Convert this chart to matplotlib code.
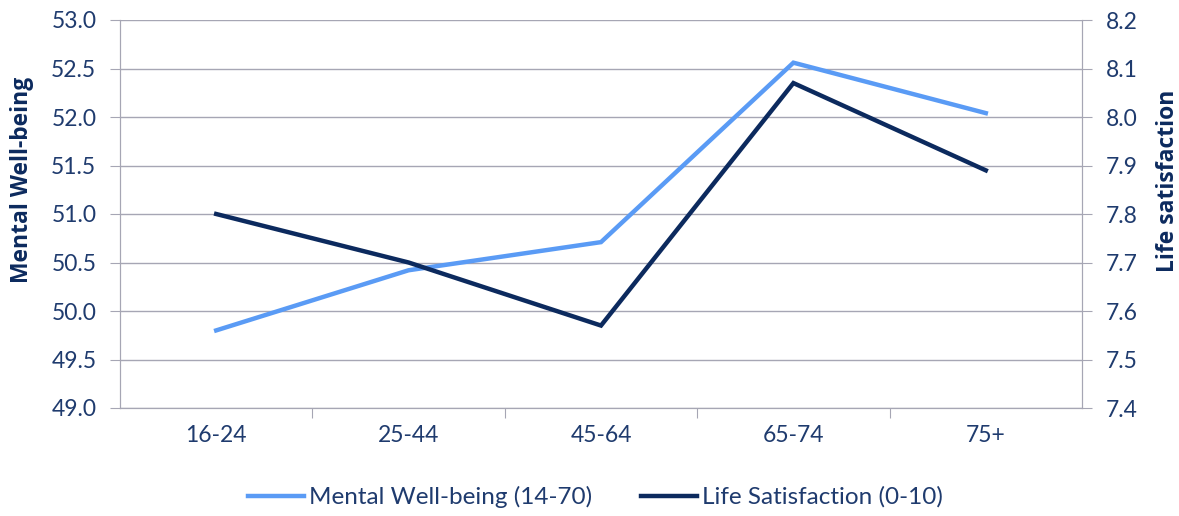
import matplotlib.pyplot as plt
from matplotlib.lines import Line2D

plt.rcParams['font.family'] = ['Lato', 'DejaVu Sans']

ages = ['16-24', '25-44', '45-64', '65-74', '75+']
wellbeing = [49.80, 50.42, 50.71, 52.56, 52.04]
life_sat = [7.80, 7.70, 7.57, 8.07, 7.89]

text_col = '#1F3B6E'
label_col = '#0C2A5E'
grid_col = '#A6A6B4'
light = '#5A9BF5'
dark = '#0C2A5E'

fig = plt.figure(figsize=(11.79, 5.16), dpi=100)
ax = fig.add_axes([120 / 1179, 1 - 408 / 516, 962 / 1179, 388 / 516])
ax2 = ax.twinx()

x = range(len(ages))
ax.plot(x, wellbeing, color=light, lw=3.2, solid_joinstyle='miter', zorder=3)
ax2.plot(x, life_sat, color=dark, lw=3.2, solid_joinstyle='miter', zorder=3)

ax.set_xlim(-0.5, len(ages) - 0.5)
ax.set_ylim(49, 53)
ax.set_yticks([49 + 0.5 * i for i in range(9)])
ax.set_yticklabels([f'{49 + 0.5 * i:.1f}' for i in range(9)])
ax2.set_ylim(7.4, 8.2)
ax2.set_yticks([7.4 + 0.1 * i for i in range(9)])
ax2.set_yticklabels([f'{7.4 + 0.1 * i:.1f}' for i in range(9)])

ax.set_xticks([i + 0.5 for i in range(len(ages) - 1)])
ax.set_xticklabels([])
ax.set_xticks(list(x), minor=True)
ax.set_xticklabels(ages, minor=True)
ax.tick_params(axis='x', which='minor', length=0, pad=12, labelsize=16.5, labelcolor=text_col)
ax.tick_params(axis='x', which='major', length=7, color=grid_col, direction='out')

ax.grid(axis='y', color=grid_col, lw=1)
ax.set_axisbelow(True)
for a in (ax, ax2):
    for s in a.spines.values():
        s.set_color(grid_col)
    a.spines['top'].set_visible(False)
ax.tick_params(axis='y', length=7, color=grid_col, labelsize=16.5, labelcolor=text_col, pad=10)
ax2.tick_params(axis='y', length=7, color=grid_col, labelsize=16.5, labelcolor=text_col, pad=10)

ax.set_ylabel('Mental Well-being', fontsize=16.5, fontweight='bold', color=label_col,
              family=['Open Sans', 'DejaVu Sans'])
ax2.set_ylabel('Life satisfaction', fontsize=16.5, fontweight='bold', color=label_col,
               family=['Open Sans', 'DejaVu Sans'])
ax.yaxis.set_label_coords(-0.089, 0.588)
ax2.yaxis.set_label_coords(1.077, 0.585)

handles = [Line2D([], [], color=light, lw=3.2), Line2D([], [], color=dark, lw=3.2)]
fig.legend(handles, ['Mental Well-being (14-70)', 'Life Satisfaction (0-10)'],
           loc='center', bbox_to_anchor=(0.505, 1 - 497 / 516), ncol=2, frameon=False,
           fontsize=17.5, labelcolor=text_col, handlelength=2.3, handletextpad=0.2,
           columnspacing=2.0)

fig.savefig('out.png', dpi=100)
